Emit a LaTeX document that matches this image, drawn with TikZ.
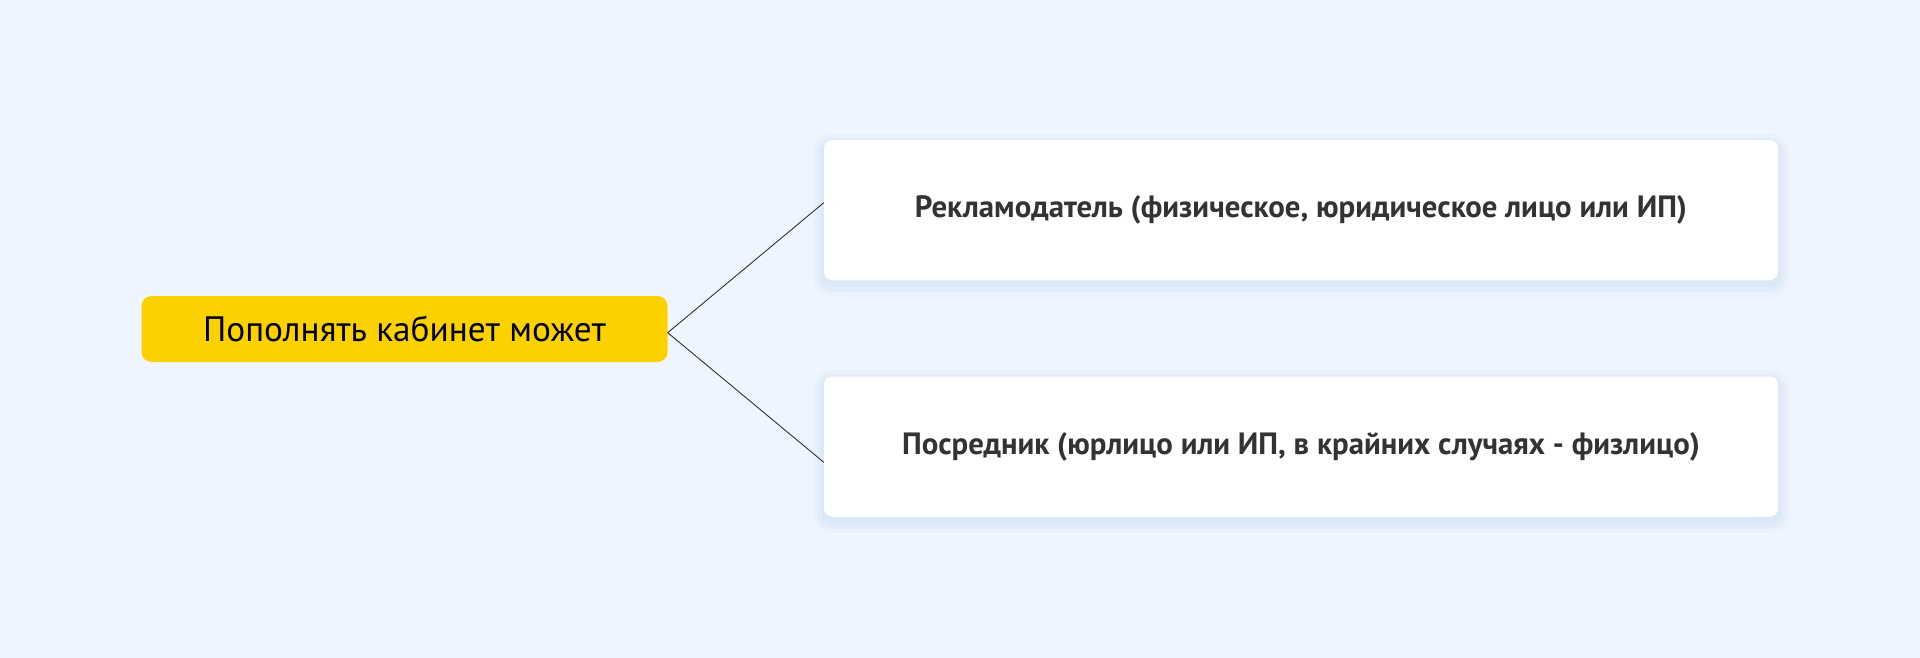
\documentclass[tikz,border=0pt]{standalone}
\usepackage{fontspec}
\setmainfont{PT Sans}
\definecolor{bgblue}{HTML}{EEF5FE}
\definecolor{yel}{HTML}{FBD200}
\definecolor{txt}{HTML}{333333}
\definecolor{shad}{HTML}{D3E2F4}
\tikzset{
  softshadow/.style={
    preaction={draw=shad, line width=22pt, draw opacity=0.2, transform canvas={yshift=-5pt}},
    preaction={draw=shad, line width=14pt, draw opacity=0.3, transform canvas={yshift=-5pt}},
    preaction={draw=shad, line width=6pt, draw opacity=0.4, transform canvas={yshift=-4pt}}},
  rootbox/.style={fill=yel, rounded corners=10pt, minimum width=526pt, minimum height=66pt, inner sep=0pt, font=\fontsize{35.3}{40}\selectfont, text=black},
  leafbox/.style={softshadow, fill=white, rounded corners=8pt, minimum width=954pt, minimum height=140pt, inner sep=0pt, font=\fontsize{30.8}{36}\selectfont\bfseries, text=txt},
  link/.style={draw=txt, line width=0.9pt}
}
\begin{document}
\begin{tikzpicture}[x=1pt,y=-1pt]
\fill[bgblue] (0,0) rectangle (1920,658);
\useasboundingbox (0,0) rectangle (1920,658);
\node[rootbox] (L) at (404.5,329) {Пополнять кабинет может};
\node[leafbox] (b1) at (1301,210) {Рекламодатель (физическое, юридическое лицо или ИП)};
\node[leafbox] (b2) at (1301,446.5) {Посредник (юрлицо или ИП, в крайних случаях - физлицо)};
\draw[link] ([yshift=-3.7pt]L.east) -- ([yshift=7.3pt]b1.west);
\draw[link] ([yshift=-3.7pt]L.east) -- ([yshift=-15.8pt]b2.west);
\end{tikzpicture}
\end{document}
